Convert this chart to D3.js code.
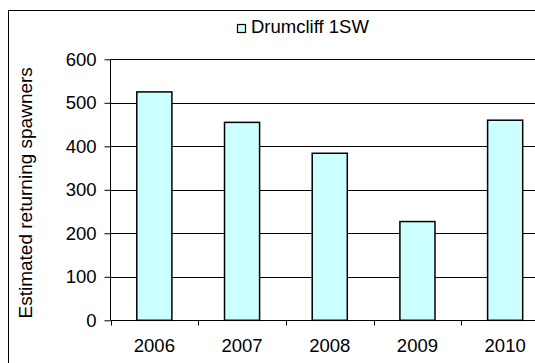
<!DOCTYPE html>
<html><head><meta charset="utf-8">
<script src="https://cdn.jsdelivr.net/npm/d3@7"></script>
<style>body{margin:0;background:#fff;} svg{display:block;font-family:"Liberation Sans",Arial,sans-serif;}</style>
</head><body>
<script>
const categories = ["2006","2007","2008","2009","2010"];
const values = [525, 455, 384, 227, 460];
const yTicks = [0,100,200,300,400,500,600];
const seriesName = "Drumcliff 1SW";
const yTitle = "Estimated returning spawners";

(function(){
const W = 535, H = 363;
const FS = 18.5;
const svg = d3.select("body").append("svg").attr("width", W).attr("height", H);
svg.append("rect").attr("width", W).attr("height", H).attr("fill", "#fff");
svg.append("rect").attr("x", 8.5).attr("y", 10.5).attr("width", 540).attr("height", 370)
  .attr("fill", "none").attr("stroke", "#000").attr("stroke-width", 1);

const pL = 110.5, pR = 549, pT = 59.3, pB = 320.3;
const x = d3.scaleBand().domain(categories).range([pL, pR]).paddingInner(0.6).paddingOuter(0.3);
const y = d3.scaleLinear().domain([0, 600]).range([pB, pT]);

// gridlines
svg.append("g").selectAll("line").data(yTicks.filter(d => d > 0)).join("line")
  .attr("x1", pL).attr("x2", pR)
  .attr("y1", d => Math.round(y(d)) + 0.5).attr("y2", d => Math.round(y(d)) + 0.5)
  .attr("stroke", "#000").attr("stroke-width", 1);

// bars
svg.append("g").selectAll("rect").data(values).join("rect")
  .attr("x", (d, i) => x(categories[i]))
  .attr("y", d => y(d))
  .attr("width", x.bandwidth())
  .attr("height", d => y(0) - y(d))
  .attr("fill", "#CCFFFF").attr("stroke", "#000").attr("stroke-width", 1.5);

// y axis
const yAxis = d3.axisLeft(y).tickValues(yTicks).tickSize(6).tickPadding(8);
const gy = svg.append("g").attr("transform", `translate(${pL},0)`).call(yAxis);
gy.select(".domain").attr("d", `M0,${pT}V${pB}`);
gy.selectAll("text").attr("font-size", FS).attr("fill", "#000").attr("font-family", "Liberation Sans, Arial, sans-serif");

// x axis
const band = (pR - pL) / categories.length;
const xAxis = d3.axisBottom(x).tickSize(0).tickPadding(18);
const gx = svg.append("g").attr("transform", `translate(0,${Math.round(pB)+0.5})`).call(xAxis);
gx.select(".domain").attr("d", `M${pL},0H${pR}`);
gx.selectAll("text").attr("font-size", FS).attr("fill", "#000").attr("font-family", "Liberation Sans, Arial, sans-serif");
gx.append("g").selectAll("line").data(d3.range(categories.length + 1)).join("line")
  .attr("x1", i => Math.round(pL + i * band) + 0.5).attr("x2", i => Math.round(pL + i * band) + 0.5)
  .attr("y1", 0).attr("y2", 5).attr("stroke", "#000");

// y title
svg.append("text").attr("transform", `translate(32,${(pT + pB) / 2 + 3}) rotate(-90)`)
  .attr("text-anchor", "middle").attr("font-size", 19).text(yTitle);

// legend
svg.append("rect").attr("x", 237.5).attr("y", 24.5).attr("width", 8).attr("height", 8)
  .attr("fill", "#CCFFFF").attr("stroke", "#000").attr("stroke-width", 1.2);
svg.append("text").attr("x", 251).attr("y", 33).attr("font-size", FS).text(seriesName);
})();
</script>
</body></html>
